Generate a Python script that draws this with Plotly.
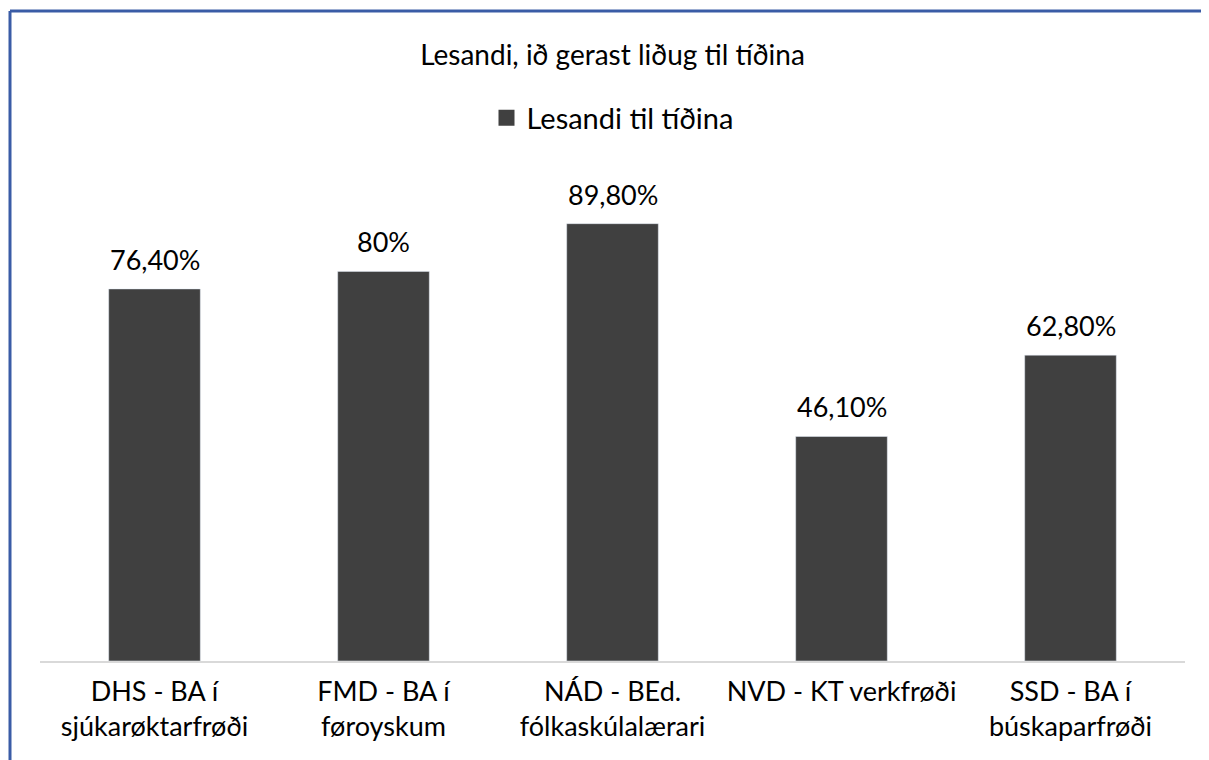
import plotly.graph_objects as go

categories = ["DHS - BA í<br>sjúkarøktarfrøði", "FMD - BA í<br>føroyskum",
              "NÁD - BEd.<br>fólkaskúlalærari", "NVD - KT verkfrøði",
              "SSD - BA í<br>búskaparfrøði"]
values = [76.4, 80, 89.8, 46.1, 62.8]
value_labels = ["76,40%", "80%", "89,80%", "46,10%", "62,80%"]
series_name = "Lesandi til tíðina"
title = "Lesandi, ið gerast liðug til tíðina"

font = "Lato, 'Open Sans', sans-serif"
bar_color = "#404040"

fig = go.Figure()
fig.add_trace(go.Bar(
    x=categories, y=values, name=series_name,
    marker=dict(color=bar_color), width=0.4, showlegend=False,
))
# bigger square for the legend entry
fig.add_trace(go.Scatter(
    x=[None], y=[None], mode="markers", name=series_name,
    marker=dict(symbol="square", size=20, color=bar_color),
))

# data labels above bars
for cat, val, lab in zip(categories, values, value_labels):
    fig.add_annotation(x=cat, y=val, text=lab, showarrow=False,
                       yanchor="bottom", yshift=11,
                       font=dict(size=27, color="#000000", family=font))

# blue frame edges (chart is a crop of a bordered box)
frame = "#3a5ca6"
fig.add_shape(type="line", xref="paper", yref="paper",
              x0=-0.0262, x1=-0.0262, y0=-0.25, y1=1.3347,
              line=dict(color=frame, width=3))
fig.add_shape(type="line", xref="paper", yref="paper",
              x0=-0.0262, x1=1.05, y0=1.3347, y1=1.3347,
              line=dict(color=frame, width=3))

# page body has an 8px margin, so margins are shifted by 8px
fig.update_layout(
    width=1209, height=760,
    margin=dict(l=32, r=32, t=166, b=107),
    paper_bgcolor="white", plot_bgcolor="white",
    font=dict(family=font, color="#000000"),
    title=dict(text=title, x=0.5, xanchor="center", y=1 - 47 / 760,
               yanchor="middle", font=dict(size=28, color="#000000")),
    showlegend=True,
    legend=dict(orientation="h", x=0.5, xanchor="center", y=1.115,
                yanchor="middle", font=dict(size=29, color="#000000"),
                itemwidth=30),
    bargap=0.6,
)
fig.update_xaxes(showline=True, linecolor="#d9d9d9", linewidth=1.5,
                 ticks="", ticklabelstandoff=6,
                 tickfont=dict(size=27, color="#000000"))
fig.update_yaxes(range=[0, 100], visible=False, showgrid=False)

fig.write_html("out.html")
